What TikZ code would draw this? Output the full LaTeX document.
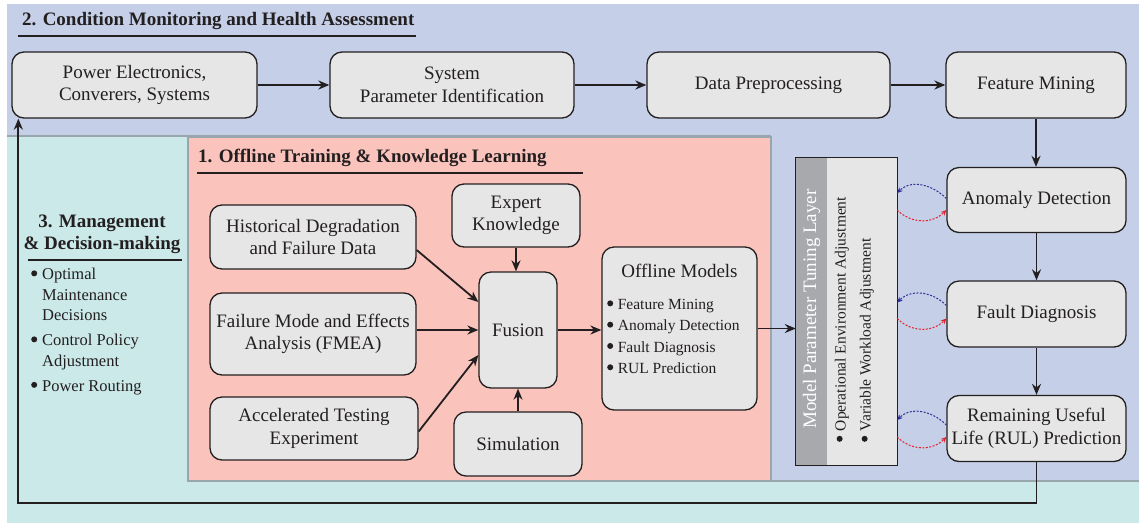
\documentclass[tikz,border=0pt]{standalone}
\usepackage{fontspec}
\setmainfont{Liberation Serif}
\usetikzlibrary{arrows.meta}
\definecolor{bandblue}{HTML}{C5D0E8}
\definecolor{bgcyan}{HTML}{CBE9E8}
\definecolor{panelpink}{HTML}{FAC4BC}
\definecolor{boxgray}{HTML}{E6E6E6}
\definecolor{stripgray}{HTML}{A7A9AC}
\definecolor{edgegray}{HTML}{9AA6AE}
\definecolor{ink}{HTML}{231F20}
\definecolor{dashred}{HTML}{E8202A}
\definecolor{dashblue}{HTML}{2E3192}
\newcommand{\mybul}{\raisebox{0.2em}{\tikz\fill[ink] (0,0) circle (3pt);}\hspace{0.3em}}
\newcommand{\mybulgap}{\hphantom{\mybul}}
\begin{document}
\begin{tikzpicture}[x=1pt,y=-1pt,
  bx/.style={draw=ink, line width=1.3pt, fill=boxgray, rounded corners=12pt, align=center,
    inner sep=0pt, font=\fontsize{19}{22.5}\selectfont, text=ink},
  conn/.style={draw=ink, line width=1.8pt, -{Stealth[length=11pt,width=9pt]}},
  ttl/.style={font=\fontsize{19}{22}\selectfont\bfseries, text=ink, inner sep=0pt},
  uline/.style={draw=ink, line width=1.8pt},
  bluedash/.style={draw=dashblue, line width=1pt, dash pattern=on 2pt off 1.5pt,
    -{Stealth[length=5.5pt,width=5pt]}},
  reddash/.style={draw=dashred, line width=1pt, dash pattern=on 2pt off 1.5pt,
    -{Stealth[length=5.5pt,width=5pt]}},
  smalltxt/.style={font=\fontsize{15.5}{21.3}\selectfont, text=ink, inner sep=0pt, align=left},
  midtxt/.style={font=\fontsize{16.5}{20.5}\selectfont, text=ink, inner sep=0pt, align=left}]

\useasboundingbox (0,0) rectangle (1139,523);
\fill[white] (0,0) rectangle (1139,523);
% panels
\fill[bgcyan] (7,136) rectangle (1139,523);
\fill[bandblue] (7,4) -- (1139,4) -- (1139,481) -- (771,481) -- (771,136) -- (7,136) -- cycle;
\draw[edgegray, line width=1.5pt] (7,136) -- (771,136);
\draw[edgegray, line width=1.5pt] (771,481) -- (1139,481);
\draw[edgegray, line width=1.5pt, fill=panelpink] (188,137) rectangle (771,481);

% titles
\node[ttl, anchor=west] (t2) at (22,21) {2. Condition Monitoring and Health Assessment};
\draw[uline] (18,36) -- (416,36);
\node[ttl, anchor=west] (t1) at (198,158) {1. Offline Training \& Knowledge Learning};
\draw[uline] (197,173) -- (583,173);
\node[ttl, align=center] (t3) at (102,234) {3. Management\\\& Decision-making};
\draw[uline] (28,260) -- (182,260);
\node[midtxt, anchor=north west] (mgl) at (31,268)
  {\mybul Optimal\\\mybulgap Maintenance\\\mybulgap Decisions\\[4.5pt]
   \mybul Control Policy\\\mybulgap Adjustment\\[4.5pt]
   \mybul Power Routing};

% top row
\node[bx, minimum width=245pt, minimum height=66pt] (pe) at (134.5,85) {Power Electronics,\\Converers, Systems};
\node[bx, minimum width=244pt, minimum height=66pt] (spi) at (452,85) {System\\Parameter Identification};
\node[bx, minimum width=243pt, minimum height=66pt] (dp) at (768.5,85) {Data Preprocessing};
\node[bx, minimum width=180pt, minimum height=66pt] (fm) at (1036,85) {Feature Mining};
% right column
\node[bx, minimum width=179pt, minimum height=65pt] (ad) at (1036.5,200) {Anomaly Detection};
\node[bx, minimum width=179pt, minimum height=66pt] (fd) at (1036.5,314) {Fault Diagnosis};
\node[bx, minimum width=179pt, minimum height=66pt] (rul) at (1036.5,428.5) {Remaining Useful\\Life (RUL) Prediction};
% tuning layer
\node[fill=boxgray, minimum width=101pt, minimum height=307pt, inner sep=0pt] (tune) at (846.5,311.5) {};
\fill[stripgray] (tune.north west) rectangle (826.5,465);
\draw[ink, line width=1.2pt] (tune.north west) rectangle (tune.south east);
\node[rotate=90, text=white, font=\fontsize{19}{22}\selectfont, inner sep=0pt] (tlab) at (811.5,309) {Model Parameter Tuning Layer};
\node[smalltxt, rotate=90, anchor=west] (tb1) at (842,442) {\mybul Operational Environment Adjustment};
\node[smalltxt, rotate=90, anchor=west] (tb2) at (867,442) {\mybul Variable Workload Adjustment};

% offline block
\node[bx, minimum width=206pt, minimum height=64pt] (hist) at (313,237) {Historical Degradation\\and Failure Data};
\node[bx, minimum width=206pt, minimum height=82pt] (fmea) at (313,334) {Failure Mode and Effects\\Analysis (FMEA)};
\node[bx, minimum width=208pt, minimum height=63pt] (acc) at (314,428.5) {Accelerated Testing\\Experiment};
\node[bx, minimum width=128pt, minimum height=63pt] (exp) at (516,215.5) {Expert\\Knowledge};
\node[bx, minimum width=78pt, minimum height=116pt] (fus) at (518,330) {Fusion};
\node[bx, minimum width=128pt, minimum height=64pt] (sim) at (518,444) {Simulation};
\node[bx, minimum width=155pt, minimum height=163pt] (om) at (679.5,328.5) {};
\node[font=\fontsize{19}{22}\selectfont, text=ink, inner sep=0pt] (omt) at (679.5,271) {Offline Models};
\node[smalltxt, anchor=north west] (oml) at (607,299)
  {\mybul Feature Mining\\\mybul Anomaly Detection\\\mybul Fault Diagnosis\\\mybul RUL Prediction};

% connectors
\draw[conn] (pe.east) -- (spi.west);
\draw[conn] (spi.east) -- (dp.west);
\draw[conn] (dp.east) -- (fm.west);
\draw[conn] (fm.south) -- (fm.south |- ad.north);
\draw[conn] (ad.south) -- (ad.south |- fd.north);
\draw[conn] (fd.south) -- (fd.south |- rul.north);
\draw[conn] (rul.south) -- ++(0,41) -| ([xshift=7pt]pe.south west);
\draw[conn] ([yshift=-13pt]hist.east) -- ([yshift=28pt]fus.west);
\draw[conn] (fmea.east |- fus.west) -- (fus.west);
\draw[conn] ([yshift=-3pt]acc.east) -- ([yshift=-25pt]fus.west);
\draw[conn] (exp.south) -- (exp.south |- fus.north);
\draw[conn] (sim.north) -- (sim.north |- fus.south);
\draw[conn] (fus.east) -- (fus.east -| om.west);
\draw[conn] (om.east) -- (om.east -| tune.west);

% dashed feedback arcs
\coordinate (tA) at (tune.east |- ad.west);
\coordinate (tF) at (tune.east |- fd.west);
\coordinate (tR) at (tune.east |- rul.west);
\draw[bluedash] ([yshift=1.5pt]ad.west) .. controls +(-14,-14) and +(14,-14) .. ([yshift=7pt]tA);
\draw[reddash] ([yshift=-10pt]tA) .. controls +(14,14) and +(-14,14) .. ([yshift=-10pt]ad.west);
\draw[bluedash] ([yshift=8.5pt]fd.west) .. controls +(-14,-14) and +(14,-14) .. ([yshift=11.5pt]tF);
\draw[reddash] ([yshift=-4.5pt]tF) .. controls +(14,14) and +(-14,14) .. ([yshift=-4.5pt]fd.west);
\draw[bluedash] ([yshift=3.5pt]rul.west) .. controls +(-14,-14) and +(14,-14) .. ([yshift=8.5pt]tR);
\draw[reddash] ([yshift=-8.5pt]tR) .. controls +(14,14) and +(-14,14) .. ([yshift=-8.5pt]rul.west);
\end{tikzpicture}
\end{document}
